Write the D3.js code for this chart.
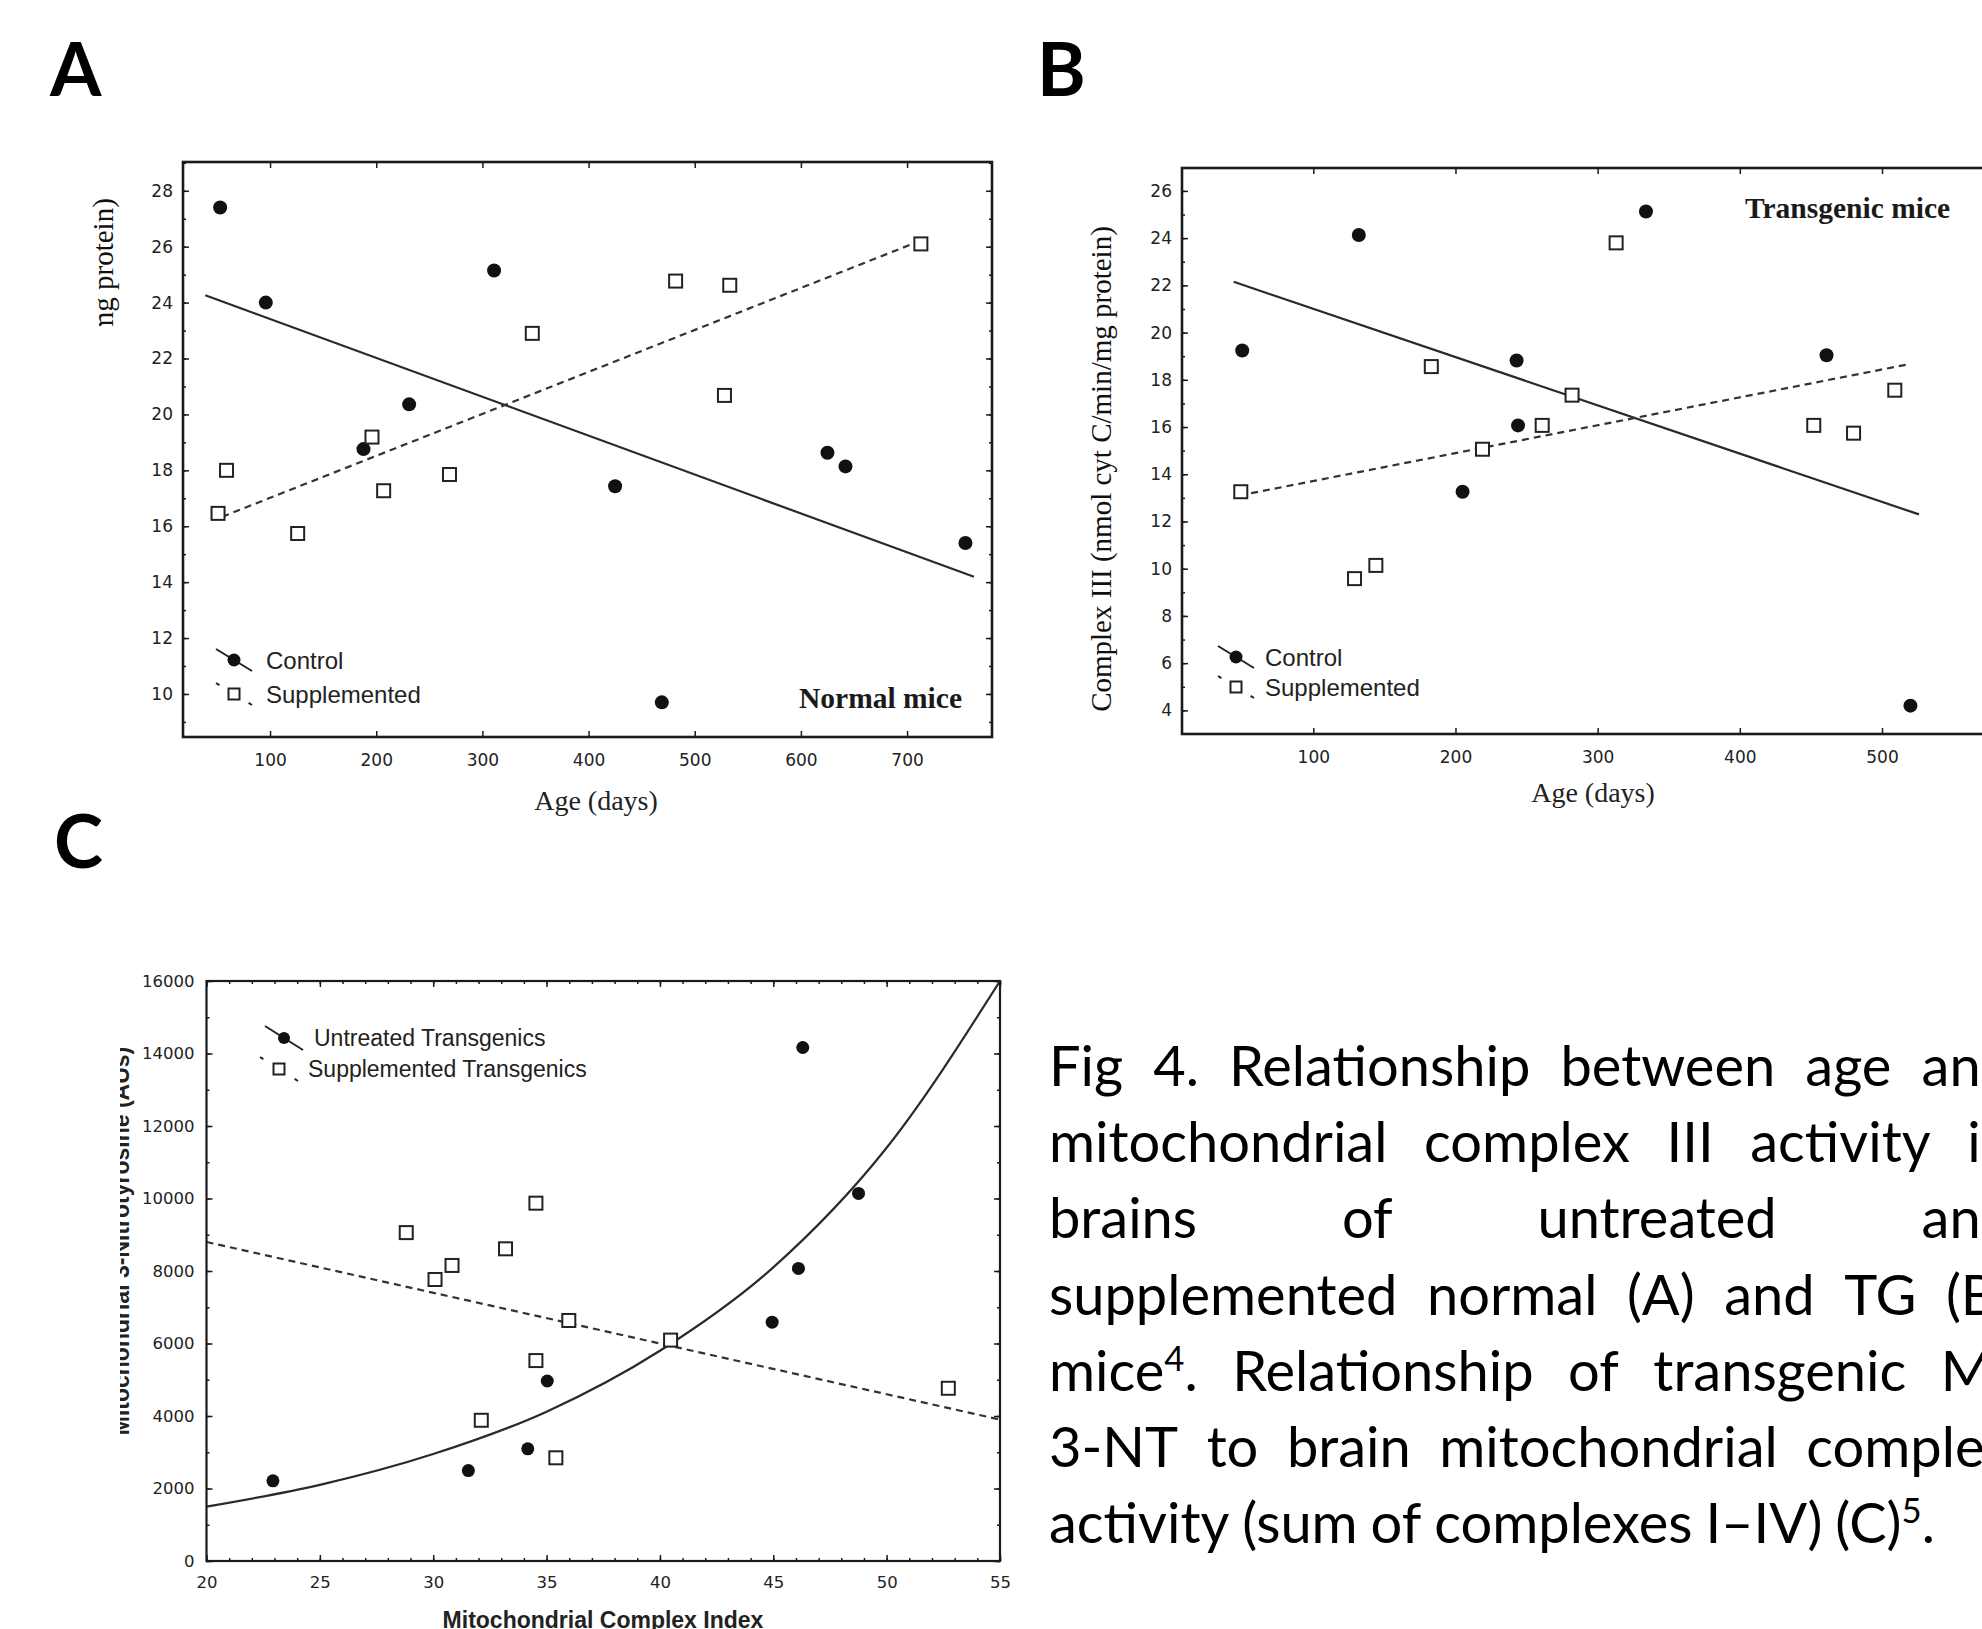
<!DOCTYPE html>
<html>
<head>
<meta charset="utf-8">
<script src="https://cdn.jsdelivr.net/npm/d3@7"></script>
<style>
  body { margin: 0; background: #fff; }
  svg { display: block; }
</style>
</head>
<body>
<svg id="fig" width="1982" height="1629"></svg>
<script>
// ---- Panel A: normal mice, complex III vs age ----
var aControlAge = [53, 96, 188, 231, 311, 425, 469, 625, 642, 755];
var aControlVal = [27.4, 24.0, 18.76, 20.36, 25.15, 17.43, 9.7, 18.63, 18.14, 15.4];
var aSuppAge = [51, 59, 126, 196, 207, 269, 347, 482, 528, 533, 713];
var aSuppVal = [16.46, 18.0, 15.74, 19.19, 17.27, 17.85, 22.9, 24.77, 20.68, 24.62, 26.1];
var aControlFitAge = [39, 763];
var aControlFitVal = [24.26, 14.19];
var aSuppFitAge = [55, 705];
var aSuppFitVal = [16.34, 26.1];
var aXTicks = [100, 200, 300, 400, 500, 600, 700];
var aYTicks = [10, 12, 14, 16, 18, 20, 22, 24, 26, 28];

// ---- Panel B: transgenic mice ----
var bControlAge = [50, 132, 205, 243, 244, 334, 461, 520];
var bControlVal = [19.24, 24.13, 13.26, 18.82, 16.07, 25.13, 19.04, 4.2];
var bSuppAge = [49, 129, 144, 183, 219, 261, 282, 313, 452, 480, 509];
var bSuppVal = [13.26, 9.58, 10.14, 18.56, 15.06, 16.07, 17.35, 23.8, 16.07, 15.74, 17.56];
var bControlFitAge = [44, 526];
var bControlFitVal = [22.15, 12.3];
var bSuppFitAge = [48, 518];
var bSuppFitVal = [13.1, 18.65];
var bXTicks = [100, 200, 300, 400, 500];
var bYTicks = [4, 6, 8, 10, 12, 14, 16, 18, 20, 22, 24, 26];

// ---- Panel C: 3-NT vs mitochondrial complex index ----
var cUntreatedIdx = [22.93, 31.55, 34.17, 35.03, 44.95, 46.11, 46.3, 48.76];
var cUntreatedNT = [2212, 2494, 3094, 4965, 6588, 8071, 14165, 10141];
var cSuppIdx = [28.81, 30.08, 30.83, 32.12, 33.19, 34.53, 34.53, 35.41, 35.98, 40.47, 52.72];
var cSuppNT = [9059, 7765, 8153, 3882, 8612, 9871, 5529, 2847, 6635, 6094, 4765];
var cUntreatedFitIdx = [20, 25, 30, 35, 40, 45, 50, 55];
var cUntreatedFitNT = [1500, 2100, 2950, 4120, 5800, 8100, 11400, 16000];
var cSuppFitIdx = [20, 55];
var cSuppFitNT = [8800, 3900];
var cXTicks = [20, 25, 30, 35, 40, 45, 50, 55];
var cYTicks = [0, 2000, 4000, 6000, 8000, 10000, 12000, 14000, 16000];

var captionLines = [
    "Fig 4. Relationship between age and",
    "mitochondrial complex III activity in",
    "brains of untreated and",
    "supplemented normal (A) and TG (B)",
    "mice^4. Relationship of transgenic Mt",
    "3-NT to brain mitochondrial complex",
    "activity (sum of complexes I\u2013IV) (C)^5."
];

var svg = d3.select("#fig");
var defs = svg.append("defs");
var SERIF = "'Liberation Serif', 'DejaVu Serif', serif";
var SANS = "'Liberation Sans', Arial, sans-serif";
var TICKFONT = "'DejaVu Sans', sans-serif";
var INK = "#1a1a1a";

function zip(xs, ys) {
    return xs.map(function(v, i) { return [v, ys[i]]; });
}

function range(a, b, step) {
    return d3.range(a, b + step / 2, step);
}

function drawPanel(cfg) {
    var x = d3.scaleLinear().domain(cfg.xDomain).range([cfg.x0, cfg.x1]);
    var y = d3.scaleLinear().domain(cfg.yDomain).range([cfg.y1, cfg.y0]);
    var g = svg.append("g");

    defs.append("clipPath").attr("id", cfg.id + "-clip")
        .append("rect")
        .attr("x", cfg.x0).attr("y", cfg.y0)
        .attr("width", cfg.x1 - cfg.x0).attr("height", cfg.y1 - cfg.y0);

    function styleAxis(sel, size) {
        sel.select(".domain").remove();
        sel.selectAll("line").attr("stroke", INK).attr("stroke-width", 1.5);
        sel.attr("font-family", TICKFONT).attr("font-size", size);
        sel.selectAll("text").attr("fill", "#222");
    }

    // minor ticks, all four sides, pointing inward
    var minorX = cfg.xMinor || [], minorY = cfg.yMinor || [];
    [[d3.axisBottom(x), cfg.y1, minorX], [d3.axisTop(x), cfg.y0, minorX]].forEach(function(a) {
        g.append("g").attr("transform", "translate(0," + a[1] + ")")
            .call(a[0].tickValues(a[2]).tickSize(-3).tickFormat(""))
            .call(styleAxis, 10);
    });
    [[d3.axisLeft(y), cfg.x0, minorY], [d3.axisRight(y), cfg.x1, minorY]].forEach(function(a) {
        g.append("g").attr("transform", "translate(" + a[1] + ",0)")
            .call(a[0].tickValues(a[2]).tickSize(-3).tickFormat(""))
            .call(styleAxis, 10);
    });

    // major ticks with labels on bottom and left
    g.append("g").attr("transform", "translate(0," + cfg.y1 + ")")
        .call(d3.axisBottom(x).tickValues(cfg.xTicks).tickSize(-6).tickPadding(cfg.xPad).tickFormat(d3.format("d")))
        .call(styleAxis, cfg.tickSize);
    g.append("g").attr("transform", "translate(0," + cfg.y0 + ")")
        .call(d3.axisTop(x).tickValues(cfg.xTicks).tickSize(-6).tickFormat(""))
        .call(styleAxis, 10);
    g.append("g").attr("transform", "translate(" + cfg.x0 + ",0)")
        .call(d3.axisLeft(y).tickValues(cfg.yTicks).tickSize(-6).tickPadding(cfg.yPad).tickFormat(d3.format("d")))
        .call(styleAxis, cfg.tickSize);
    g.append("g").attr("transform", "translate(" + cfg.x1 + ",0)")
        .call(d3.axisRight(y).tickValues(cfg.yTicks).tickSize(-6).tickFormat(""))
        .call(styleAxis, 10);

    var plot = g.append("g").attr("clip-path", "url(#" + cfg.id + "-clip)");
    var line = d3.line().x(function(d) { return x(d[0]); }).y(function(d) { return y(d[1]); });

    // fitted lines
    plot.append("path")
        .datum(cfg.solidFit)
        .attr("d", cfg.curve ? line.curve(d3.curveMonotoneX) : line)
        .attr("fill", "none").attr("stroke", "#2a2a2a").attr("stroke-width", 2.2);
    plot.append("path")
        .datum(cfg.dashFit)
        .attr("d", d3.line().x(function(d) { return x(d[0]); }).y(function(d) { return y(d[1]); }))
        .attr("fill", "none").attr("stroke", "#333").attr("stroke-width", 2.2)
        .attr("stroke-dasharray", "7,5");

    // points
    plot.selectAll("circle.filled").data(cfg.filled).enter()
        .append("circle").attr("class", "filled")
        .attr("cx", function(d) { return x(d[0]); })
        .attr("cy", function(d) { return y(d[1]); })
        .attr("r", cfg.r).attr("fill", "#111");
    var s = cfg.sq;
    plot.selectAll("rect.open").data(cfg.open).enter()
        .append("rect").attr("class", "open")
        .attr("x", function(d) { return x(d[0]) - s / 2; })
        .attr("y", function(d) { return y(d[1]) - s / 2; })
        .attr("width", s).attr("height", s)
        .attr("fill", "#fff").attr("stroke", "#222").attr("stroke-width", 2);

    // frame
    g.append("rect")
        .attr("x", cfg.x0).attr("y", cfg.y0)
        .attr("width", cfg.x1 - cfg.x0).attr("height", cfg.y1 - cfg.y0)
        .attr("fill", "none").attr("stroke", INK).attr("stroke-width", cfg.frameW);

    // legend
    var lg = cfg.legend;
    var l1 = g.append("g").attr("transform", "translate(" + lg.x + "," + lg.y1 + ")");
    l1.append("line").attr("x1", -lg.dx).attr("y1", -lg.dy).attr("x2", lg.dx).attr("y2", lg.dy)
        .attr("stroke", "#222").attr("stroke-width", 2);
    l1.append("circle").attr("r", cfg.r - 0.5).attr("fill", "#111");
    var l2 = g.append("g").attr("transform", "translate(" + lg.x2 + "," + lg.y2 + ")");
    var len = 2 * Math.sqrt(lg.dx * lg.dx + lg.dy * lg.dy);
    l2.append("line").attr("x1", -lg.dx).attr("y1", -lg.dy).attr("x2", lg.dx).attr("y2", lg.dy)
        .attr("stroke", "#222").attr("stroke-width", 2)
        .attr("stroke-dasharray", "4," + (len - 8) + ",4");
    l2.append("rect").attr("x", -s / 2 + 1).attr("y", -s / 2 + 1).attr("width", s - 2).attr("height", s - 2)
        .attr("fill", "#fff").attr("stroke", "#222").attr("stroke-width", 2);
    g.append("text").attr("x", lg.tx1).attr("y", lg.y1).attr("dy", "0.36em")
        .attr("font-family", SANS).attr("font-size", lg.size).attr("fill", "#222")
        .text(lg.labels[0]);
    g.append("text").attr("x", lg.tx2).attr("y", lg.y2).attr("dy", "0.36em")
        .attr("font-family", SANS).attr("font-size", lg.size).attr("fill", "#222")
        .text(lg.labels[1]);

    return g;
}

// Panel A
drawPanel({
    id: "pa", x0: 183, x1: 992, y0: 162, y1: 737,
    xDomain: [18, 780], yDomain: [8.46, 29.03],
    xTicks: aXTicks, yTicks: aYTicks, yMinor: range(9, 29, 1),
    xPad: 17, yPad: 10, tickSize: 17, frameW: 2.6,
    solidFit: zip(aControlFitAge, aControlFitVal),
    dashFit: zip(aSuppFitAge, aSuppFitVal),
    filled: zip(aControlAge, aControlVal),
    open: zip(aSuppAge, aSuppVal),
    r: 7, sq: 13,
    legend: { x: 234, y1: 660, x2: 234, y2: 694, dx: 18, dy: 11,
              tx1: 266, tx2: 266, size: 24, labels: ["Control", "Supplemented"] }
});

// Panel B (right edge runs off the page, as in the source figure)
drawPanel({
    id: "pb", x0: 1182, x1: 2000, y0: 168, y1: 734,
    xDomain: [7.65, 583], yDomain: [3.0, 26.97],
    xTicks: bXTicks, yTicks: bYTicks, yMinor: range(4, 26, 1),
    xPad: 17, yPad: 10, tickSize: 17, frameW: 2.6,
    solidFit: zip(bControlFitAge, bControlFitVal),
    dashFit: zip(bSuppFitAge, bSuppFitVal),
    filled: zip(bControlAge, bControlVal),
    open: zip(bSuppAge, bSuppVal),
    r: 7, sq: 13,
    legend: { x: 1236, y1: 657, x2: 1236, y2: 687, dx: 18, dy: 11,
              tx1: 1265, tx2: 1265, size: 24, labels: ["Control", "Supplemented"] }
});

// Panel C
drawPanel({
    id: "pc", x0: 206.5, x1: 1000, y0: 981, y1: 1561,
    xDomain: [20, 55], yDomain: [0, 16000],
    xTicks: cXTicks, yTicks: cYTicks,
    xMinor: range(20, 55, 1), yMinor: range(0, 16000, 1000),
    xPad: 15, yPad: 12, tickSize: 16.5, frameW: 2.2,
    curve: true,
    solidFit: zip(cUntreatedFitIdx, cUntreatedFitNT),
    dashFit: zip(cSuppFitIdx, cSuppFitNT),
    filled: zip(cUntreatedIdx, cUntreatedNT),
    open: zip(cSuppIdx, cSuppNT),
    r: 6.5, sq: 13,
    legend: { x: 284, y1: 1038, x2: 279, y2: 1069, dx: 19, dy: 12,
              tx1: 314, tx2: 308, size: 23,
              labels: ["Untreated Transgenics", "Supplemented Transgenics"] }
});

// ---- axis titles and panel notes ----
var yTitle = "Complex III (nmol cyt C/min/mg protein)";

// A: the title is cropped by the figure edge, only its end shows
defs.append("clipPath").attr("id", "ya-clip")
    .append("rect").attr("x", 0).attr("y", 0).attr("width", 160).attr("height", 326);
svg.append("g").attr("clip-path", "url(#ya-clip)")
    .append("text")
    .attr("transform", "translate(113,441) rotate(-90)")
    .attr("text-anchor", "middle")
    .attr("font-family", SERIF).attr("font-size", 29).attr("fill", "#111")
    .text(yTitle);

svg.append("text")
    .attr("transform", "translate(1111,469) rotate(-90)")
    .attr("text-anchor", "middle")
    .attr("font-family", SERIF).attr("font-size", 29).attr("fill", "#111")
    .text(yTitle);

svg.append("text").attr("x", 596).attr("y", 810).attr("text-anchor", "middle")
    .attr("font-family", SERIF).attr("font-size", 28).attr("fill", "#222").text("Age (days)");
svg.append("text").attr("x", 1593).attr("y", 802).attr("text-anchor", "middle")
    .attr("font-family", SERIF).attr("font-size", 28).attr("fill", "#222").text("Age (days)");

svg.append("text").attr("x", 799).attr("y", 708)
    .attr("font-family", SERIF).attr("font-size", 29.5).attr("font-weight", "bold").attr("fill", "#1a1a1a")
    .text("Normal mice");
svg.append("text").attr("x", 1745).attr("y", 218)
    .attr("font-family", SERIF).attr("font-size", 29.5).attr("font-weight", "bold").attr("fill", "#1a1a1a")
    .text("Transgenic mice");

// C titles (both cropped by the figure edges)
svg.append("text").attr("x", 603).attr("y", 1628).attr("text-anchor", "middle")
    .attr("font-family", SANS).attr("font-size", 23).attr("font-weight", "bold").attr("fill", "#222")
    .text("Mitochondrial Complex Index");
defs.append("clipPath").attr("id", "yc-clip")
    .append("rect").attr("x", 120).attr("y", 900).attr("width", 60).attr("height", 700);
svg.append("g").attr("clip-path", "url(#yc-clip)")
    .append("text")
    .attr("transform", "translate(129,1241) rotate(-90)")
    .attr("text-anchor", "middle")
    .attr("font-family", SANS).attr("font-size", 23).attr("font-weight", "bold").attr("fill", "#222")
    .text("Mitochondrial 3-Nitrotyrosine (AUs)");

// panel letters
var LETTER = "Lato, 'Open Sans', sans-serif";
[["A", 50, 96], ["B", 1037, 96], ["C", 54, 868]].forEach(function(d) {
    svg.append("text").attr("x", d[1]).attr("y", d[2])
        .attr("font-family", LETTER).attr("font-weight", 700).attr("font-size", 74).attr("fill", "#000")
        .text(d[0]);
});

// ---- justified caption ----
var capX = 1049, capRight = 2012, capBase = 1086, capStep = 76.2, capFont = 56;
var cap = svg.append("g").attr("font-family", "Lato, 'Open Sans', sans-serif")
    .attr("font-size", capFont).attr("fill", "#000");

captionLines.forEach(function(lineText, i) {
    var by = capBase + i * capStep;
    var words = lineText.split(" ");
    var nodes = words.map(function(w) {
        var t = cap.append("text").attr("y", by);
        var raised = 0;
        w.split(/(\^\d)/).forEach(function(part) {
            if (!part) return;
            if (part[0] === "^") {
                t.append("tspan").attr("font-size", capFont * 0.62).attr("dy", -capFont * 0.36).text(part.slice(1));
                raised = capFont * 0.36;
            } else {
                t.append("tspan").attr("dy", raised || null).text(part);
                raised = 0;
            }
        });
        return t;
    });
    var widths = nodes.map(function(t) { return t.node().getComputedTextLength(); });
    var total = d3.sum(widths);
    var gap = capFont * 0.23;
    if (i < captionLines.length - 1 && words.length > 1) {
        gap = (capRight - capX - total) / (words.length - 1);
    }
    var cx = capX;
    nodes.forEach(function(t, k) {
        t.attr("x", cx);
        t.selectAll("tspan").filter(function(d, j) { return j === 0; }).attr("x", cx);
        cx += widths[k] + gap;
    });
});
</script>
</body>
</html>
